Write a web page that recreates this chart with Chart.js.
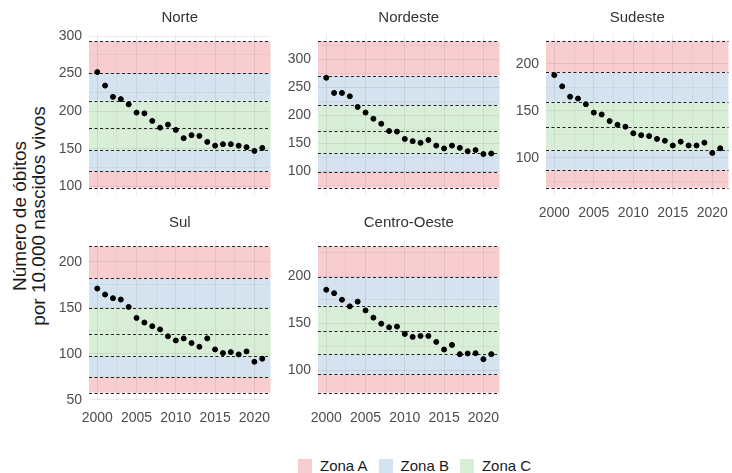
<!DOCTYPE html>
<html><head><meta charset="utf-8">
<script src="https://cdn.jsdelivr.net/npm/chart.js@4"></script>
<style>
html,body{margin:0;padding:0;background:#fff;}
body{width:732px;height:473px;position:relative;overflow:hidden;font-family:"Liberation Sans",Arial,sans-serif;}
.wrap{position:absolute;}
.wrap canvas{display:block;}
#ytitle{position:absolute;left:-120px;top:196px;width:300px;height:40px;line-height:19px;font-size:19px;color:#1a1a1a;text-align:center;transform:rotate(-90deg);white-space:nowrap;}
#legend{position:absolute;top:457px;left:298px;height:16px;font-size:15px;color:#1a1a1a;white-space:nowrap;}
#legend span.sw{display:inline-block;width:14px;height:14px;vertical-align:-2px;margin-right:8px;}
#legend span.it{display:inline-block;margin-right:11px;}
</style></head><body>
<div id="ytitle">Número de óbitos<br>por 10.000 nascidos vivos</div>
<div id="legend"></div>
<div class="wrap" style="left:44px;top:0px"><canvas id="c0" width="230" height="200"></canvas></div>
<div class="wrap" style="left:273px;top:0px"><canvas id="c1" width="230" height="200"></canvas></div>
<div class="wrap" style="left:501px;top:0px"><canvas id="c2" width="231" height="226"></canvas></div>
<div class="wrap" style="left:44px;top:205px"><canvas id="c3" width="230" height="226"></canvas></div>
<div class="wrap" style="left:273px;top:205px"><canvas id="c4" width="230" height="226"></canvas></div>
<script>
// ---- data ----
const years = [2000,2001,2002,2003,2004,2005,2006,2007,2008,2009,2010,2011,2012,2013,2014,2015,2016,2017,2018,2019,2020,2021];
const regions = ["Norte","Nordeste","Sudeste","Sul","Centro-Oeste"];
const norte = [252,234,219,216,209,198,197,187,178,182,175,164,168,167,159,154,156,156,154,152,147,151];
const nordeste = [267,240,240,234,215,205,194,185,172,171,158,154,151,156,146,141,146,142,136,138,131,132];
const sudeste = [188,176,165,163,157,148,146,139,135,133,126,124,123,120,118,113,117,113,113,116,105,110];
const sul = [171,164.5,160.5,159,151,139,134,130,126.5,119,114.5,116.7,111.6,107.6,116.7,104.7,100.7,101.8,99.3,102.5,91.3,94.6];
const centroOeste = [185.6,182,175,168,173,163.7,156,149.6,145.8,146.5,138.7,135.6,136.6,136.6,130.3,122.2,127.1,117.3,118,118.3,112,117.3];
// zone limits (ascending): A | B | C (centre line) C | B | A
const zonesNorte = [98,120,148,178,214,251,293];
const zonesNordeste = [71,99,132,172,218,271,332];
const zonesSudeste = [68,87,108,133,159,191,224];
const zonesSul = [57.6,75,97.5,122,150,182,217];
const zonesCentroOeste = [76.4,96,117.3,141.5,168.7,199.3,231.7];
const xTicks = [2000,2005,2010,2015,2020];
const yTicksNorte = [100,150,200,250,300];
const yTicksNordeste = [100,150,200,250,300];
const yTicksSudeste = [100,150,200];
const yTicksSul = [50,100,150,200];
const yTicksCentroOeste = [100,150,200];
const legendLabels = ["Zona A","Zona B","Zona C"];

// ---- styles ----
const colA = "#f8cdd0", colB = "#d5e3f0", colC = "#d9eed7";
const legendCols = [colA,colB,colC];
const FONT = "'Liberation Sans', Arial, sans-serif";

const lg = document.getElementById('legend');
legendLabels.forEach((l,i)=>{
  const it = document.createElement('span'); it.className='it';
  const sw = document.createElement('span'); sw.className='sw'; sw.style.background=legendCols[i];
  it.appendChild(sw); it.appendChild(document.createTextNode(l)); lg.appendChild(it);
});

const zonePlugin = {
  id:'zones',
  beforeDraw(chart){
    const z = chart.options.plugins.zones.limits;
    const {ctx, chartArea:a, scales:{y}} = chart;
    const bands = [[z[0],z[1],colA],[z[1],z[2],colB],[z[2],z[4],colC],[z[4],z[5],colB],[z[5],z[6],colA]];
    ctx.save();
    bands.forEach(([lo,hi,c])=>{
      const y1 = y.getPixelForValue(hi), y2 = y.getPixelForValue(lo);
      ctx.fillStyle = c; ctx.fillRect(a.left, y1, a.right-a.left, y2-y1);
    });
    ctx.restore();
  },
  beforeDatasetsDraw(chart){
    const z = chart.options.plugins.zones.limits;
    const {ctx, chartArea:a, scales:{y}} = chart;
    ctx.save();
    ctx.strokeStyle = "#222"; ctx.lineWidth = 1.1; ctx.setLineDash([3,2.5]);
    z.forEach(v=>{
      const py = Math.round(y.getPixelForValue(v))+0.5;
      ctx.beginPath(); ctx.moveTo(a.left, py); ctx.lineTo(a.right, py); ctx.stroke();
    });
    ctx.restore();
  }
};

function makeChart(id, title, values, zones, yTicks, showX){
  const lo = zones[0], hi = zones[zones.length-1];
  const ext = (hi-lo)*0.05;
  const ymin = Math.min(lo, ...values)-ext, ymax = Math.max(hi, ...values)+ext;
  const xmin = years[0]-(years[years.length-1]-years[0])*0.05;
  const xmax = years[years.length-1]+(years[years.length-1]-years[0])*0.05;
  const yAll = [];
  for(let v=yTicks[0]-25; v<=ymax; v+=25){ if(v>=ymin) yAll.push(v); }
  const xAll = [];
  for(let v=xTicks[0]-2.5; v<=xmax; v+=2.5){ if(v>=xmin) xAll.push(v); }
  return new Chart(document.getElementById(id), {
    type:'scatter',
    data:{datasets:[{data: years.map((yr,i)=>({x:yr,y:values[i]})), backgroundColor:'#000', borderColor:'#000', pointRadius:2.5, pointHoverRadius:2.5}]},
    options:{
      responsive:false, animation:false, devicePixelRatio:1,
      layout:{padding:{top:0,right:1,bottom:showX?0:5,left:0}},
      plugins:{
        legend:{display:false}, tooltip:{enabled:false},
        title:{display:true, fullSize:false, align:'center', text:title, color:'#333', font:{family:FONT,size:15,weight:'400'}, padding:{top:9,bottom:7}},
        zones:{limits:zones}
      },
      scales:{
        x:{type:'linear', min:xmin, max:xmax,
          afterBuildTicks(s){ s.ticks = xAll.map(v=>({value:v})); },
          afterFit(s){ s.paddingLeft = 0; s.paddingRight = 0; s.paddingTop = 0; s.paddingBottom = 0; s.height = showX ? 31 : 0; },
          grid:{drawTicks:false, color:'rgba(0,0,0,0.075)', lineWidth:(c)=> xTicks.includes(c.tick && c.tick.value)?1:0.6},
          border:{display:false},
          ticks:{display:showX, padding:10, color:'#4d4d4d', font:{family:FONT,size:14}, maxRotation:0, autoSkip:false,
            callback:(v)=> xTicks.includes(v)? String(v) : ''}
        },
        y:{type:'linear', min:ymin, max:ymax,
          afterBuildTicks(s){ s.ticks = yAll.map(v=>({value:v})); },
          afterFit(s){ s.width = 45; s.paddingTop = 0; s.paddingBottom = 0; },
          grid:{drawTicks:false, color:'rgba(0,0,0,0.075)', lineWidth:(c)=> yTicks.includes(c.tick && c.tick.value)?1:0.6},
          border:{display:false},
          ticks:{padding:7, color:'#4d4d4d', font:{family:FONT,size:14}, autoSkip:false,
            callback:(v)=> yTicks.includes(v)? String(v) : ''}
        }
      }
    },
    plugins:[zonePlugin]
  });
}

makeChart('c0', regions[0], norte, zonesNorte, yTicksNorte, false);
makeChart('c1', regions[1], nordeste, zonesNordeste, yTicksNordeste, false);
makeChart('c2', regions[2], sudeste, zonesSudeste, yTicksSudeste, true);
makeChart('c3', regions[3], sul, zonesSul, yTicksSul, true);
makeChart('c4', regions[4], centroOeste, zonesCentroOeste, yTicksCentroOeste, true);
</script>
</body></html>
